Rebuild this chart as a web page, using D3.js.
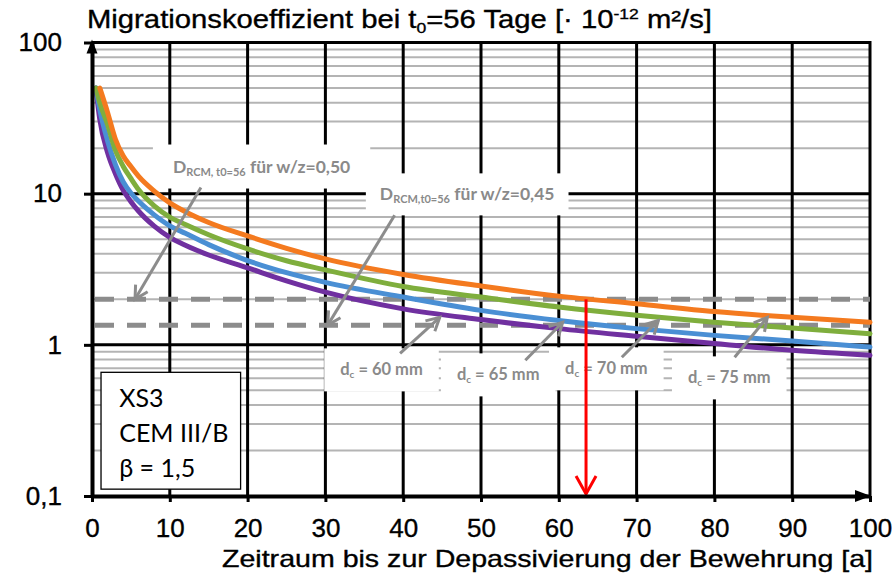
<!DOCTYPE html>
<html>
<head>
<meta charset="utf-8">
<script src="https://cdn.jsdelivr.net/npm/d3@7"></script>
<style>
  body { margin: 0; background: #fff; }
  svg { display: block; }
  .axis text { font-family: "Liberation Sans", Arial, sans-serif; font-size: 26px; fill: #000; stroke: #000; stroke-width: 0.35px; }
</style>
</head>
<body>
<svg id="chart" width="896" height="576"></svg>
<script>
// Time axis in years (Zeitraum bis zur Depassivierung)
const years = [0.5, 1, 2, 3, 4, 5, 6, 8, 10, 12, 15, 20, 25, 30, 40, 50, 60, 70, 80, 90, 100];

// Required migration coefficient D_RCM,t0=56 [1e-12 m²/s] per concrete cover d_c
const dc75 = [null, 50, 34.5, 23.0, 17.8, 15.1, 13.0, 10.4, 8.7, 7.6, 6.45, 5.25, 4.35, 3.7, 2.92, 2.45, 2.1, 1.87, 1.66, 1.52, 1.41];
const dc70 = [50, 40, 28.7, 19.4, 15.2, 12.6, 10.6, 8.3, 7.0, 6.25, 5.35, 4.31, 3.6, 3.13, 2.43, 2.07, 1.78, 1.57, 1.41, 1.29, 1.185];
const dc65 = [50, 36, 22.4, 15.6, 12.0, 10.1, 8.9, 7.24, 6.13, 5.47, 4.6, 3.61, 3.0, 2.59, 2.07, 1.69, 1.45, 1.28, 1.155, 1.06, 0.967];
const dc60 = [50, 31, 18.7, 13.6, 10.56, 8.85, 7.65, 6.1, 5.14, 4.56, 3.93, 3.23, 2.65, 2.23, 1.73, 1.47, 1.28, 1.14, 1.02, 0.92, 0.853];

// Material values D_RCM,t0=56 for the two w/z ratios
const wzLabels = ["0,50", "0,45"];
const wzValues = [2.0, 1.35];

// Reading: d_c = 75 mm reaches D = 2,0 after about 63.5 years
const readT = 63.5;
const readD = 2.0;

// Tick values
const xTicks = [0, 10, 20, 30, 40, 50, 60, 70, 80, 90, 100];
const yTicks = [0.1, 1, 10, 100];
const yTickLabels = ["0,1", "1", "10", "100"];

const seriesNames = ["d_c = 60 mm", "d_c = 65 mm", "d_c = 70 mm", "d_c = 75 mm"];
const seriesValues = [dc60, dc65, dc70, dc75];
const seriesColors = ["#7030a0", "#4a8fd4", "#7fae3d", "#f47a1f"];

const svg = d3.select("#chart");
const x = d3.scaleLinear().domain([0, 100]).range([92, 870]);
const y = d3.scaleLog().domain([0.1, 100]).range([496, 42.5]);

const gridColor = "#b4b4b4";
const labelGray = "#8a8a8a";

// ---- grid ----
const grid = svg.append("g");
const minor = [];
[0.1, 1, 10].forEach(dec => { for (let k = 2; k <= 9; k++) minor.push(k * dec); });
grid.selectAll("line.minor").data(minor).join("line")
  .attr("x1", x(0)).attr("x2", x(100))
  .attr("y1", d => y(d)).attr("y2", d => y(d))
  .attr("stroke", gridColor).attr("stroke-width", 2);
grid.selectAll("line.hmajor").data([1, 10, 100]).join("line")
  .attr("x1", x(0)).attr("x2", x(100))
  .attr("y1", d => y(d)).attr("y2", d => y(d))
  .attr("stroke", "#000").attr("stroke-width", 3);
grid.selectAll("line.vmajor").data(xTicks.slice(1)).join("line")
  .attr("x1", d => x(d)).attr("x2", d => x(d))
  .attr("y1", y(100) - 1.5).attr("y2", y(0.1))
  .attr("stroke", "#000").attr("stroke-width", 3);

// ---- label layer (white boxes behind the annotation texts) ----
const boxLayer = svg.append("g");
const labelLayer = svg.append("g");

function grayLabel(t, v, main, sub, rest, size, subSize, padX, padY) {
  const txt = labelLayer.append("text")
    .attr("x", x(t)).attr("y", y(v))
    .attr("font-family", "Lato, 'Open Sans', sans-serif")
    .attr("font-weight", "bold")
    .attr("font-size", size)
    .attr("fill", labelGray);
  txt.append("tspan").text(main);
  txt.append("tspan").attr("font-size", subSize).attr("dy", 3).text(sub);
  txt.append("tspan").attr("dy", -3).text(rest);
  const b = txt.node().getBBox();
  boxLayer.append("rect")
    .attr("x", b.x - padX).attr("y", b.y - padY)
    .attr("width", b.width + 2 * padX).attr("height", b.height + 2 * padY)
    .attr("fill", "#fff");
}

// D_RCM labels
grayLabel(10.4, 13.8, "D", "RCM, t0=56", " für w/z=" + wzLabels[0], 17.5, 11, 20, 11);
grayLabel(37.0, 9.03, "D", "RCM,t0=56", " für w/z=" + wzLabels[1], 17.5, 11, 14, 10);

// cover labels: [t, v]
const coverLabelPos = [[31.9, 0.628], [46.9, 0.582], [60.8, 0.638], [76.6, 0.556]];
const coverNums = ["60", "65", "70", "75"];
coverLabelPos.forEach((p, i) => {
  grayLabel(p[0], p[1], "d", "c", " = " + coverNums[i] + " mm", 16.5, 10, 16, 11);
});

// ---- horizontal dashed material lines ----
svg.append("g").selectAll("line").data(wzValues).join("line")
  .attr("x1", x(0) + 3).attr("x2", x(100))
  .attr("y1", d => y(d)).attr("y2", d => y(d))
  .attr("stroke", "#8c8c8c").attr("stroke-width", 5)
  .attr("stroke-dasharray", "19 13");

// ---- curves ----
const line = d3.line()
  .defined(d => d[1] != null)
  .x(d => x(d[0])).y(d => y(d[1]))
  .curve(d3.curveMonotoneX);
svg.append("g").selectAll("path").data(seriesValues).join("path")
  .attr("d", vals => line(years.map((t, i) => [t, vals[i]])))
  .attr("fill", "none")
  .attr("stroke", (d, i) => seriesColors[i])
  .attr("stroke-width", 5)
  .attr("stroke-linejoin", "round")
  .attr("stroke-linecap", "round");

// ---- arrows ----
function arrow(g, x1, y1, x2, y2, color, w, len, half) {
  g.append("line").attr("x1", x1).attr("y1", y1).attr("x2", x2).attr("y2", y2)
    .attr("stroke", color).attr("stroke-width", w);
  const a = Math.atan2(y2 - y1, x2 - x1);
  const bx = x2 - len * Math.cos(a), by = y2 - len * Math.sin(a);
  const nx = -Math.sin(a) * half, ny = Math.cos(a) * half;
  g.append("path")
    .attr("d", `M${bx + nx},${by + ny}L${x2},${y2}L${bx - nx},${by - ny}`)
    .attr("fill", "none").attr("stroke", color).attr("stroke-width", w)
    .attr("stroke-linejoin", "miter");
}
// annotation arrows: [tFrom, vFrom, tTo, vTo]
const annoArrows = [
  [14.0, 11.0, 5.53, wzValues[0]],
  [38.9, 7.19, 30.3, wzValues[1]],
  [39.6, 0.879, 44.7, 1.52],
  [55.7, 0.79, 60.5, 1.41],
  [68.1, 0.827, 72.8, 1.45],
  [82.6, 0.827, 86.8, 1.52]
];
const arrowLayer = svg.append("g");
annoArrows.forEach(a => arrow(arrowLayer, x(a[0]), y(a[1]), x(a[2]), y(a[3]), "#8c8c8c", 3, 13, 7));

// red reading arrow
arrow(svg.append("g"), x(readT), y(readD), x(readT), y(0.1) - 2, "#ff0000", 3, 18, 10);

// ---- axes ----
const yAxis = svg.append("g").attr("class", "axis")
  .attr("transform", `translate(${x(0)},0)`)
  .call(d3.axisLeft(y).tickValues(yTicks).tickFormat((d, i) => yTickLabels[i])
    .tickSize(8).tickSizeOuter(0).tickPadding(22));
yAxis.select(".domain").attr("stroke-width", 4);
yAxis.selectAll(".tick line").attr("stroke-width", 3);

const xAxis = svg.append("g").attr("class", "axis")
  .attr("transform", `translate(0,${y(0.1)})`)
  .call(d3.axisBottom(x).tickValues(xTicks).tickSize(6).tickSizeOuter(0).tickPadding(17));
xAxis.select(".domain").attr("stroke-width", 4);
xAxis.selectAll(".tick line").attr("stroke-width", 3);

// axis arrow tips
svg.append("path")
  .attr("d", `M${x(0) - 5.5},${y(100) + 11}L${x(0)},${y(100) - 3}L${x(0) + 5.5},${y(100) + 11}Z`)
  .attr("fill", "#000");
svg.append("path")
  .attr("d", `M${x(100) - 15},${y(0.1) - 6}L${x(100) + 1},${y(0.1)}L${x(100) - 15},${y(0.1) + 6}Z`)
  .attr("fill", "#000");

// ---- info box ----
const infoLines = ["XS3", "CEM III/B", "β = 1,5"];
const info = svg.append("g");
info.append("rect")
  .attr("x", x(1.16)).attr("y", y(0.658))
  .attr("width", x(19.1) - x(1.16)).attr("height", y(0.111) - y(0.658))
  .attr("fill", "#fff").attr("stroke", "#000").attr("stroke-width", 1.3);
info.selectAll("text").data(infoLines).join("text")
  .attr("x", x(3.5))
  .attr("y", (d, i) => y(0.658) + 35 + i * 35)
  .attr("font-family", "Lato, 'Open Sans', sans-serif")
  .attr("font-size", 25)
  .attr("fill", "#000")
  .text(d => d);

// ---- titles ----
const title = svg.append("text")
  .attr("x", 87).attr("y", 28)
  .attr("font-family", "'Liberation Sans', Arial, sans-serif")
  .attr("font-size", 25)
  .attr("fill", "#000").attr("stroke", "#000").attr("stroke-width", 0.35);
title.append("tspan").text("Migrationskoeffizient bei t");
title.append("tspan").attr("font-size", 15).attr("dy", 5).text("0");
title.append("tspan").attr("dy", -5).text("=56 Tage [· 10");
title.append("tspan").attr("font-size", 15).attr("dy", -9).text("-12");
title.append("tspan").attr("dy", 9).text(" m²/s]");
title.attr("textLength", 625).attr("lengthAdjust", "spacingAndGlyphs");

svg.append("text")
  .attr("x", 873).attr("y", 567)
  .attr("text-anchor", "end")
  .attr("font-family", "'Liberation Sans', Arial, sans-serif")
  .attr("font-size", 24)
  .attr("fill", "#000").attr("stroke", "#000").attr("stroke-width", 0.35)
  .attr("textLength", 651).attr("lengthAdjust", "spacingAndGlyphs")
  .text("Zeitraum bis zur Depassivierung der Bewehrung [a]");
</script>
</body>
</html>
